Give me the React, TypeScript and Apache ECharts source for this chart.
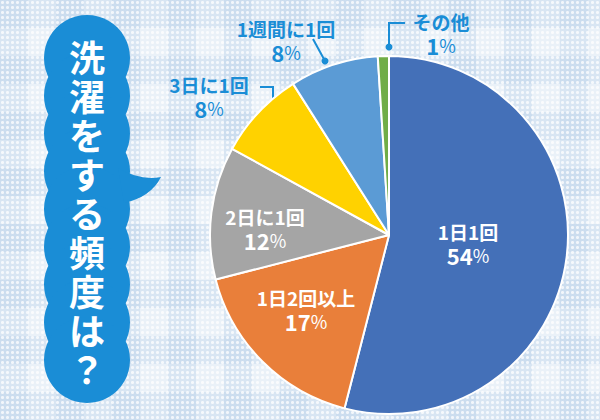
import React, { useEffect, useRef } from "react";
import * as echarts from "echarts";

const categories = ["1日1回", "1日2回以上", "2日に1回", "3日に1回", "1週間に1回", "その他"];
const values = [54, 17, 12, 8, 8, 1];
const sliceColors = ["#4470b8", "#e97f3a", "#a5a5a5", "#ffd200", "#5b9bd5", "#70ad47"];
const titleChars = ["洗", "濯", "を", "す", "る", "頻", "度", "は", "？"];

const ACCENT = "#1a8dd6";
const FONT = '"Noto Sans CJK JP", "Noto Sans", sans-serif';

// label placement (x, y of label centre) and text colour, per slice
const labelPos: [number, number][] = [
  [468, 243],
  [306, 309],
  [265, 228],
  [209, 96],
  [286, 40],
  [441, 33],
];
const labelInside = [true, true, true, false, false, false];

// leader lines for outer labels
const leaderLines: [number, number][][] = [
  [[260, 87], [273, 87], [273, 107]],
  [[313, 39], [325, 61]],
  [[405, 23], [389, 23], [389, 47]],
];

echarts.graphic.registerShape(
  "bubbleTail",
  echarts.graphic.extendPath("M118 168 Q140 181 161 177 Q151 197 124 203 Z", {})
);

export default function App() {
  const ref = useRef<HTMLDivElement>(null);
  useEffect(() => {
    document.body.style.margin = "0";
    const chart = echarts.init(ref.current!, null, { renderer: "svg" });

    const graphics: any[] = [];
    const nCircles = 9;
    for (let i = 0; i < nCircles; i++) {
      graphics.push({
        type: "circle",
        shape: { cx: 87, cy: 58 + (i * (360 - 58)) / (nCircles - 1), r: 43 },
        style: { fill: ACCENT },
        silent: true,
      });
    }
    graphics.push({ type: "bubbleTail", x: 0, y: 0, style: { fill: ACCENT }, silent: true });
    titleChars.forEach((ch, i) => {
      graphics.push({
        type: "text",
        x: 87,
        y: 56 + i * 39,
        style: {
          text: ch,
          fill: "#ffffff",
          fontSize: 36,
          fontWeight: "bold",
          fontFamily: FONT,
          align: "center",
          verticalAlign: "middle",
        },
        silent: true,
      });
    });
    leaderLines.forEach((pts) => {
      graphics.push({
        type: "polyline",
        shape: { points: pts },
        style: { stroke: ACCENT, lineWidth: 2, fill: "none" },
        silent: true,
      });
      const end = pts[pts.length - 1];
      graphics.push({
        type: "circle",
        shape: { cx: end[0], cy: end[1], r: 3.5 },
        style: { fill: ACCENT },
        silent: true,
      });
    });

    chart.setOption({
      animation: false,
      backgroundColor: "transparent",
      graphic: graphics,
      series: [
        {
          type: "pie",
          center: [389, 235],
          radius: 179,
          startAngle: 90,
          clockwise: true,
          avoidLabelOverlap: false,
          itemStyle: { borderColor: "#ffffff", borderWidth: 2 },
          labelLine: { show: false },
          label: {
            show: true,
            position: "outside",
            formatter: "{n|{b}}\n{p|{c}}{s|%}",
            rich: {
              n: { fontSize: 19, fontWeight: "bold", fontFamily: FONT, lineHeight: 24, align: "center" },
              p: { fontSize: 22, fontWeight: "bold", fontFamily: FONT, lineHeight: 24 },
              s: { fontSize: 18, fontWeight: "normal", fontFamily: FONT, lineHeight: 24 },
            },
          },
          labelLayout: (params: any) => {
            const p = labelPos[params.dataIndex];
            return { x: p[0], y: p[1], align: "center", verticalAlign: "middle" };
          },
          data: categories.map((name, i) => ({
            name,
            value: values[i],
            itemStyle: { color: sliceColors[i] },
            label: { color: labelInside[i] ? "#ffffff" : ACCENT },
          })),
        },
      ],
    });
    return () => chart.dispose();
  }, []);

  const bg: React.CSSProperties = {
    position: "absolute",
    left: 0,
    top: 0,
    width: 600,
    height: 420,
    overflow: "hidden",
    backgroundColor: "#eaf1f8",
    backgroundImage:
      "radial-gradient(circle, rgba(255,255,255,0.75) 1.2px, transparent 1.8px)," +
      "repeating-linear-gradient(0deg, rgba(175,202,230,0.3) 0 28px, transparent 28px 56px)," +
      "repeating-linear-gradient(90deg, rgba(175,202,230,0.3) 0 28px, transparent 28px 56px)",
    backgroundSize: "5px 5px, auto, auto",
  };

  return (
    <div style={bg}>
      <div ref={ref} style={{ width: 600, height: 420 }} />
    </div>
  );
}
